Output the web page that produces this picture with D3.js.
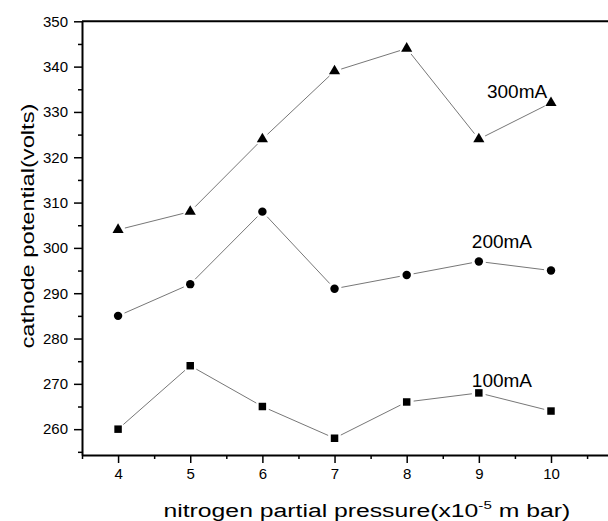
<!DOCTYPE html>
<html>
<head>
<meta charset="utf-8">
<script src="https://cdn.jsdelivr.net/npm/d3@7"></script>
<style>
  html, body { margin: 0; padding: 0; background: #fff; }
  svg { display: block; font-family: "Liberation Sans", Arial, sans-serif; }
</style>
</head>
<body>
<svg id="chart" width="608" height="521"></svg>
<script>
// nitrogen partial pressure (x10^-5 m bar)
const pressure = [4, 5, 6, 7, 8, 9, 10];
// cathode potential (volts) for each discharge current
const volts300 = [304, 308, 324, 339, 344, 324, 332];
const volts200 = [285, 292, 308, 291, 294, 297, 295];
const volts100 = [260, 274, 265, 258, 266, 268, 264];
const seriesNames = ['300mA', '200mA', '100mA'];
const xTicks = [4, 5, 6, 7, 8, 9, 10];
const yTicks = [260, 270, 280, 290, 300, 310, 320, 330, 340, 350];

(function () {
  const svg = d3.select('#chart');
  const W = 608, H = 521;

  const x = d3.scaleLinear().domain([3.5, 10.79]).range([82, W]);
  const y = d3.scaleLinear().domain([254.3, 350]).range([455, 21.3]);

  const series = [
    { name: seriesNames[0], values: volts300, shape: d3.symbolTriangle, size: 54, label: [9.53, 333.1] },
    { name: seriesNames[1], values: volts200, shape: d3.symbolCircle, size: 56, label: [9.32, 300.0] },
    { name: seriesNames[2], values: volts100, shape: d3.symbolSquare, size: 56, label: [9.32, 269.2] }
  ];

  // minor ticks (no labels)
  const xMinor = d3.range(3.5, 10.8, 0.5).filter(v => !xTicks.includes(v));
  const yMinor = d3.range(255, 351, 5).filter(v => !yTicks.includes(v));

  svg.append('g')
    .attr('transform', 'translate(0,455)')
    .call(d3.axisBottom(x).tickValues(xMinor).tickSize(4).tickFormat('').tickSizeOuter(0))
    .call(g => g.select('.domain').remove())
    .selectAll('line').attr('stroke-width', 1.5);

  svg.append('g')
    .attr('transform', 'translate(82,0)')
    .call(d3.axisLeft(y).tickValues(yMinor).tickSize(4).tickFormat('').tickSizeOuter(0))
    .call(g => g.select('.domain').remove())
    .selectAll('line').attr('stroke-width', 1.5);

  const xAxis = svg.append('g')
    .attr('transform', 'translate(0,455)')
    .call(d3.axisBottom(x).tickValues(xTicks).tickSize(8).tickPadding(5).tickSizeOuter(0));
  xAxis.select('.domain').attr('stroke-width', 2);
  xAxis.selectAll('.tick line').attr('stroke-width', 1.5);
  xAxis.selectAll('text').attr('font-size', 15).attr('fill', '#000')
    .attr('font-family', '"Liberation Sans", Arial, sans-serif');

  const yAxis = svg.append('g')
    .attr('transform', 'translate(82,0)')
    .call(d3.axisLeft(y).tickValues(yTicks).tickSize(8).tickPadding(6).tickSizeOuter(0));
  yAxis.select('.domain').attr('stroke-width', 2);
  yAxis.selectAll('.tick line').attr('stroke-width', 1.5);
  yAxis.selectAll('text').attr('font-size', 15).attr('fill', '#000')
    .attr('font-family', '"Liberation Sans", Arial, sans-serif');

  // top frame line
  svg.append('line')
    .attr('x1', x.range()[0]).attr('x2', x.range()[1])
    .attr('y1', y(350)).attr('y2', y(350))
    .attr('stroke', '#000').attr('stroke-width', 2);

  // connecting lines with small gaps at the markers
  const gap = 7;
  series.forEach(s => {
    const pts = pressure.map((p, i) => [x(p), y(s.values[i])]);
    const segs = d3.pairs(pts);
    svg.append('g').selectAll('line')
      .data(segs)
      .enter()
      .append('line')
      .each(function (d) {
        const [a, b] = d;
        const dx = b[0] - a[0], dy = b[1] - a[1];
        const len = Math.hypot(dx, dy);
        const ux = dx / len, uy = dy / len;
        d3.select(this)
          .attr('x1', a[0] + ux * gap).attr('y1', a[1] + uy * gap)
          .attr('x2', b[0] - ux * gap).attr('y2', b[1] - uy * gap);
      })
      .attr('stroke', '#777')
      .attr('stroke-width', 1);

    svg.append('g').selectAll('path')
      .data(pts)
      .enter()
      .append('path')
      .attr('d', d3.symbol().type(s.shape).size(s.size))
      .attr('transform', d => `translate(${d[0]},${d[1]})`)
      .attr('fill', '#000');

    svg.append('text')
      .attr('x', x(s.label[0]))
      .attr('y', y(s.label[1]))
      .attr('text-anchor', 'middle')
      .attr('font-size', 19)
      .text(s.name);
  });

  // axis titles, stretched along their length to the original's extent
  const yTitle = svg.append('text')
    .attr('font-size', 18)
    .text('cathode potential(volts)');
  const yLen = yTitle.node().getComputedTextLength();
  const ys = 245 / yLen;
  yTitle.attr('transform', `translate(34,${226 + 245 / 2}) rotate(-90) scale(${ys},1)`);

  const xTitle = svg.append('text')
    .attr('font-size', 18);
  xTitle.append('tspan').text('nitrogen partial pressure(x10');
  xTitle.append('tspan').attr('font-size', 11).attr('dy', -8).text('-5');
  xTitle.append('tspan').attr('dy', 8).text(' m bar)');
  const xLen = xTitle.node().getBBox().width;
  const xs = 407 / xLen;
  xTitle.attr('transform', `translate(${367 - 407 / 2},517) scale(${xs},1)`);
})();
</script>
</body>
</html>
